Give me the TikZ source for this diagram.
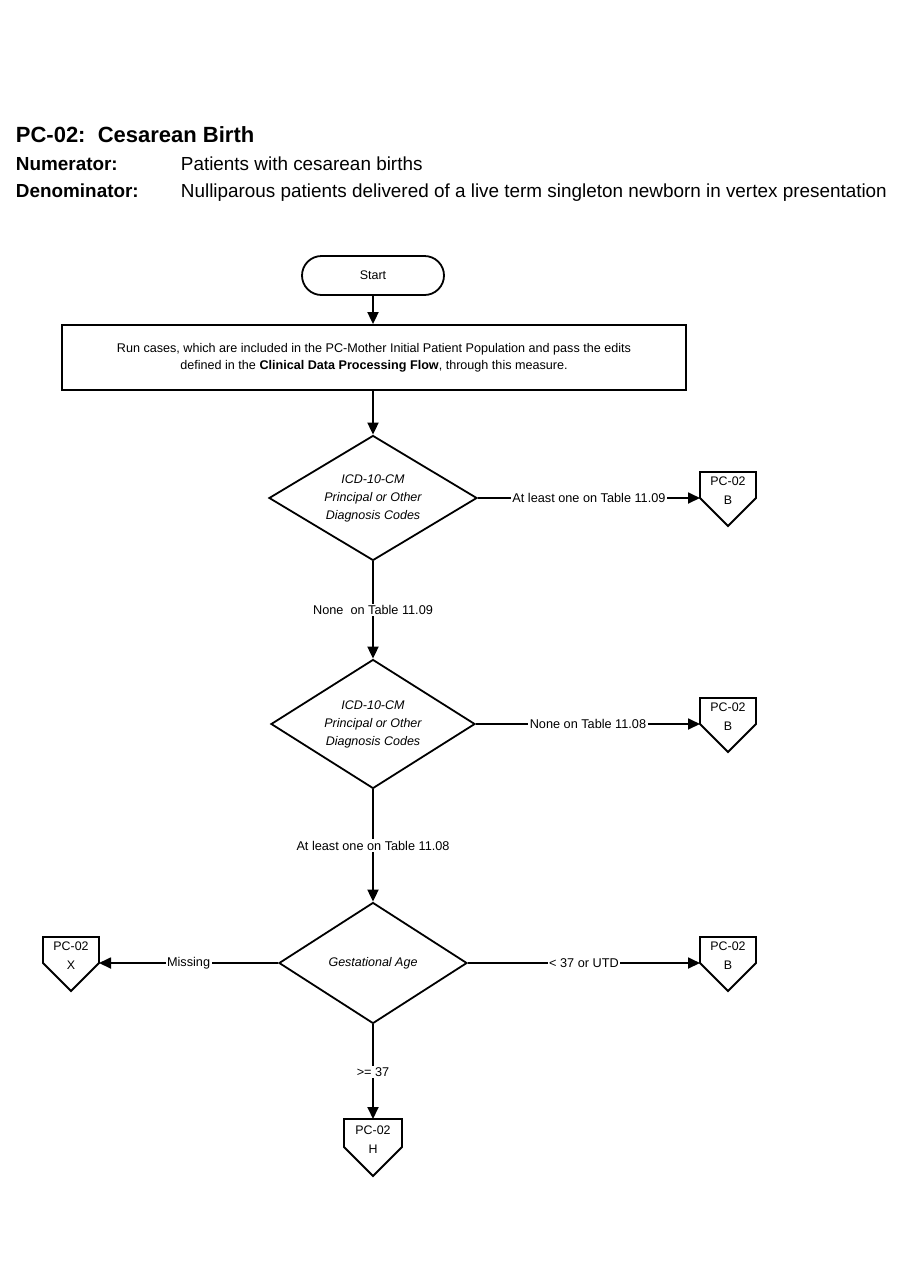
\documentclass[tikz,border=0pt]{standalone}
\usepackage{fontspec}
\setmainfont{Liberation Sans}
\usetikzlibrary{shapes.geometric, arrows.meta, calc}
\newcommand{\offpg}[4]{%
  \node[offtext] (#1) at (#2,#3-7.5) {PC-02\\#4};
  \draw[offshape] (#2-28,#3-26) -- (#2+28,#3-26) -- (#2+28,#3) -- (#2,#3+28) -- (#2-28,#3) -- cycle;
  \coordinate (#1-w) at (#2-28,#3);
  \coordinate (#1-e) at (#2+28,#3);
}
\begin{document}
\begin{tikzpicture}[x=1pt, y=-1pt, line width=1.8pt,
  every node/.style={inner sep=0pt},
  arr/.style={-{Triangle[length=12pt,width=11pt]}},
  lbl/.style={font=\fontsize{12.7}{15}\selectfont, fill=white, inner sep=1.5pt},
  dec/.style={diamond, aspect=1.6, draw, align=center, font=\fontsize{12.5}{18}\selectfont\itshape},
  offtext/.style={align=center, font=\fontsize{12.4}{19}\selectfont},
  offshape/.style={draw, line join=miter},
  hdrb/.style={anchor=base west, font=\fontsize{18.9}{22}\selectfont\bfseries},
  hdr/.style={anchor=base west, font=\fontsize{18.9}{22}\selectfont}]
\useasboundingbox (0,0) rectangle (900,1286);

% header
\node[anchor=base west, font=\fontsize{22}{26}\selectfont\bfseries] (title) at (15,142) {PC-02:\ \ Cesarean Birth};
\node[hdrb] (numl) at (15,170) {Numerator:};
\node[hdr] (numt) at (180,170) {Patients with cesarean births};
\node[hdrb] (denl) at (15,197) {Denominator:};
\node[hdr] (dent) at (180,197) {Nulliparous patients delivered of a live term singleton newborn in vertex presentation};

% flow
\node[draw, rounded corners=19.5pt, minimum width=142pt, minimum height=39pt, font=\fontsize{12.5}{15}\selectfont] (start) at (373,275.5) {Start};
\node[draw, minimum width=624pt, minimum height=65pt, align=center, font=\fontsize{12.6}{17}\selectfont] (run) at (374,357.5)
  {Run cases, which are included in the PC-Mother Initial Patient Population and pass the edits\\defined in the \textbf{Clinical Data Processing Flow}, through this measure.};
\node[dec, minimum width=208pt, minimum height=125pt] (d1) at (373,498) {ICD-10-CM\\Principal or Other\\Diagnosis Codes};
\node[dec, minimum width=204pt, minimum height=129pt] (d2) at (373,724) {ICD-10-CM\\Principal or Other\\Diagnosis Codes};
\node[dec, minimum width=188pt, minimum height=121pt] (d3) at (373,963) {Gestational Age};

\offpg{b1}{728}{498}{B}
\offpg{b2}{728}{724}{B}
\offpg{b3}{728}{963}{B}
\offpg{bx}{71}{963}{X}

% H connector
\node[offtext] (h) at (373,1140) {PC-02\\H};
\draw[offshape] (344,1119) -- (402,1119) -- (402,1147) -- (373,1176) -- (344,1147) -- cycle;
\coordinate (h-n) at (373,1119);

% connectors
\draw[arr] (start.south) -- (run.north -| start.south);
\draw[arr] (run.south -| d1.north) -- (d1.north);
\draw[arr] (d1.east) -- node[lbl] {At least one on Table 11.09} (b1-w);
\draw[arr] (d1.south) -- node[lbl] {None\ \ on Table 11.09} (d2.north);
\draw[arr] (d2.east) -- node[lbl] {None on Table 11.08} (b2-w);
\draw[arr] (d2.south) -- node[lbl] {At least one on Table 11.08} (d3.north);
\draw[arr] (d3.east) -- node[lbl] {< 37 or UTD} (b3-w);
\draw[arr] (d3.west) -- node[lbl] {Missing} (bx-e);
\draw[arr] (d3.south) -- node[lbl] {>= 37} (h-n);
\end{tikzpicture}
\end{document}
